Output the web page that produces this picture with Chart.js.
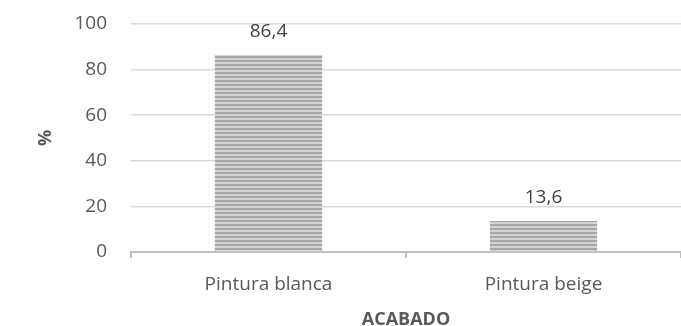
<!DOCTYPE html>
<html>
<head>
<meta charset="utf-8">
<script src="https://cdn.jsdelivr.net/npm/chart.js@4/dist/chart.umd.min.js"></script>
<style>
  html, body { margin: 0; padding: 0; background: #fff; }
  #wrap { width: 681px; height: 326px; }
</style>
</head>
<body>
<div id="wrap"><canvas id="chart" width="681" height="326"></canvas></div>
<script>
// --- DATA ---
const categories = ['Pintura blanca', 'Pintura beige'];
const values = [86.4, 13.6];
const yTicks = [0, 20, 40, 60, 80, 100];

const FONT = '"Open Sans", sans-serif';
const TXT = '#595959';

// striped fill like the original
function stripePattern() {
    const c = document.createElement('canvas');
    c.width = 4; c.height = 4;
    const g = c.getContext('2d');
    g.fillStyle = '#d4d4d4';
    g.fillRect(0, 0, 4, 4);
    g.fillStyle = '#a6a6a6';
    g.fillRect(0, 0, 4, 2);
    return g.createPattern(c, 'repeat');
}

// value labels above bars, with decimal comma
const valueLabels = {
    id: 'valueLabels',
    afterDatasetsDraw(chart) {
        const ctx = chart.ctx;
        const meta = chart.getDatasetMeta(0);
        ctx.save();
        ctx.font = '19px ' + FONT;
        ctx.fillStyle = '#404040';
        ctx.textAlign = 'center';
        ctx.textBaseline = 'alphabetic';
        meta.data.forEach((bar, i) => {
            ctx.fillText(values[i].toFixed(1).replace('.', ','), bar.x, bar.y - 18);
        });
        ctx.restore();
    }
};

new Chart(document.getElementById('chart'), {
    type: 'bar',
    data: {
        labels: categories,
        datasets: [{
            data: values,
            backgroundColor: stripePattern(),
            borderWidth: 0,
            barPercentage: 0.39,
            categoryPercentage: 1
        }]
    },
    options: {
        responsive: false,
        animation: false,
        layout: { padding: { top: 24, right: 0, left: 0, bottom: 0 } },
        plugins: { legend: { display: false }, tooltip: { enabled: false } },
        scales: {
            x: {
                afterFit: axis => { axis.height = 74; axis.paddingLeft = 0; axis.paddingRight = 0; },
                grid: { display: true, drawOnChartArea: false, drawTicks: true, tickLength: 6, color: '#bfbfbf', lineWidth: 2, offset: true },
                border: { color: '#bfbfbf', width: 2 },
                ticks: { color: TXT, font: { family: FONT, size: 19 }, padding: 15 },
                title: { display: true, text: 'ACABADO', color: TXT, font: { family: FONT, size: 18, weight: 'bold' }, padding: { top: 0, bottom: -5 } }
            },
            y: {
                min: 0, max: 100,
                afterFit: axis => { axis.width = 131; axis.paddingTop = 0; axis.paddingBottom = 0; },
                afterBuildTicks: axis => { axis.ticks = yTicks.map(v => ({ value: v })); },
                grid: { color: '#d9d9d9', lineWidth: 1.5, drawTicks: false },
                border: { display: false },
                ticks: { color: TXT, font: { family: FONT, size: 19 }, padding: 24 },
                title: { display: true, text: '%', color: TXT, font: { family: FONT, size: 18, weight: 'bold' }, padding: { top: 35, bottom: 0 } }
            }
        }
    },
    plugins: [valueLabels]
});
</script>
</body>
</html>
